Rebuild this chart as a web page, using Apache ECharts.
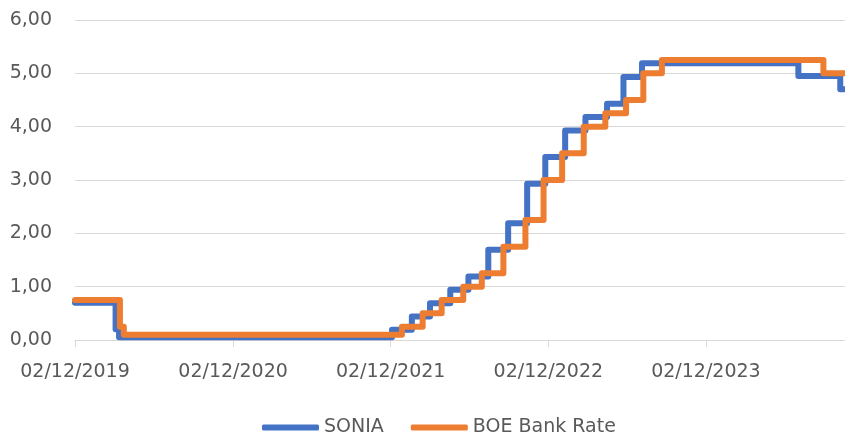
<!DOCTYPE html>
<html>
<head>
<meta charset="utf-8">
<script src="https://cdn.jsdelivr.net/npm/echarts@6/dist/echarts.min.js"></script>
<style>
html,body{margin:0;padding:0;background:#fff;}
#chart{width:845px;height:437px;}
</style>
</head>
<body>
<div id="chart"></div>
<script>
// SONIA: [date the level starts, value]
const soniaDates = ['2019-12-02','2020-03-05','2020-03-13','2021-12-05','2022-01-20','2022-03-03','2022-04-19','2022-05-31','2022-07-16','2022-08-31','2022-10-14','2022-11-25','2023-01-10','2023-02-26','2023-04-17','2023-05-25','2023-07-07','2024-07-03','2024-10-08','2024-10-19'];
const soniaValues = [0.70,0.20,0.05,0.19,0.44,0.69,0.94,1.19,1.69,2.19,2.93,3.43,3.93,4.18,4.43,4.93,5.19,4.95,4.70,4.70];
// BOE Bank Rate
const boeDates = ['2019-12-02','2020-03-15','2020-03-24','2021-12-28','2022-02-14','2022-03-30','2022-05-19','2022-07-01','2022-08-20','2022-10-10','2022-11-21','2023-01-03','2023-02-22','2023-04-13','2023-05-31','2023-07-10','2023-08-22','2024-08-30','2024-10-19'];
const boeValues = [0.75,0.25,0.10,0.25,0.50,0.75,1.00,1.25,1.75,2.25,3.00,3.50,4.00,4.25,4.50,5.00,5.25,5.00,5.00];
// x tick labels
const xTickDates = ['2019-12-02','2020-12-02','2021-12-02','2022-12-02','2023-12-02'];
const xMin = '2019-12-02';
const xMax = '2024-10-19';
const seriesNames = ['SONIA','BOE Bank Rate'];

function toTs(s){ const p = s.split('-').map(Number); return Date.UTC(p[0], p[1]-1, p[2]); }
function pad(n){ return (n<10?'0':'')+n; }
function fmtDate(ts){ const d = new Date(ts); return pad(d.getUTCDate())+'/'+pad(d.getUTCMonth()+1)+'/'+d.getUTCFullYear(); }

const chart = echarts.init(document.getElementById('chart'), null, {renderer:'canvas'});
const txt = '#595959';
const font = 'DejaVu Sans';
chart.setOption({
  animation: false,
  backgroundColor: '#ffffff',
  grid: {left: 75, right: 0, top: 20, bottom: 97, containLabel: false},
  legend: {
    data: seriesNames,
    left: 257, top: 413,
    icon: 'roundRect',
    itemWidth: 57, itemHeight: 6,
    itemGap: 27,
    textStyle: {color: txt, fontFamily: font, fontSize: 19, padding: [0,0,0,0]}
  },
  xAxis: {
    type: 'value',
    min: toTs(xMin), max: toTs(xMax),
    splitLine: {show: false},
    axisLine: {show: true, lineStyle: {color: '#D9D9D9', width: 1}},
    axisTick: {show: true, length: 7, lineStyle: {color: '#D9D9D9'}, customValues: xTickDates.map(toTs)},
    axisLabel: {color: txt, fontFamily: font, fontSize: 19, margin: 23, customValues: xTickDates.map(toTs), formatter: v => fmtDate(v)}
  },
  yAxis: {
    type: 'value', min: 0, max: 6, interval: 1,
    axisLine: {show: false}, axisTick: {show: false},
    splitLine: {lineStyle: {color: '#D9D9D9', width: 1}},
    axisLabel: {color: txt, fontFamily: font, fontSize: 19, margin: 23, formatter: v => v.toFixed(2).replace('.', ',')}
  },
  series: [
    {name: seriesNames[0], type: 'line', step: 'end', showSymbol: false, symbol: 'none',
     lineStyle: {color: '#4472C4', width: 6, cap: 'round', join: 'round'}, itemStyle: {color: '#4472C4'},
     data: soniaDates.map((d,i) => [toTs(d), soniaValues[i]])},
    {name: seriesNames[1], type: 'line', step: 'end', showSymbol: false, symbol: 'none',
     lineStyle: {color: '#ED7D31', width: 6, cap: 'round', join: 'round'}, itemStyle: {color: '#ED7D31'},
     data: boeDates.map((d,i) => [toTs(d), boeValues[i]])}
  ]
});
</script>
</body>
</html>
